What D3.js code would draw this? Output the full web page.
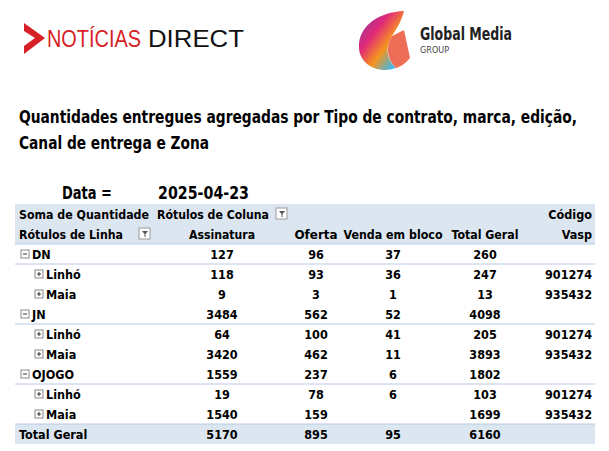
<!DOCTYPE html>
<html><head><meta charset="utf-8">
<script src="https://cdn.jsdelivr.net/npm/d3@7"></script>
<style>body{margin:0;background:#fff}</style>
</head><body>
<svg id="c" width="609" height="451"></svg>
<script>
var columns = ["Assinatura", "Oferta", "Venda em bloco", "Total Geral"];
var rowLabels = ["DN", "Linhó", "Maia", "JN", "Linhó", "Maia", "OJOGO", "Linhó", "Maia"];
var rowLevel = [0, 1, 1, 0, 1, 1, 0, 1, 1];
var assinatura = [127, 118, 9, 3484, 64, 3420, 1559, 19, 1540];
var oferta = [96, 93, 3, 562, 100, 462, 237, 78, 159];
var vendaBloco = [37, 36, 1, 52, 41, 11, 6, 6, null];
var totalGeral = [260, 247, 13, 4098, 205, 3893, 1802, 103, 1699];
var codigoVasp = ["", "901274", "935432", "", "901274", "935432", "", "901274", "935432"];
var totals = [5170, 895, 95, 6160];

var svg = d3.select("#c");
var font = "'DejaVu Sans Condensed', 'Liberation Sans', sans-serif";
var blue = "#dce6f1", line = "#b8cce4";

// logos
var defs = svg.append("defs");
var g1 = defs.append("linearGradient").attr("id", "gm").attr("x1", 0).attr("y1", 0).attr("x2", 1).attr("y2", 1);
[["0%", "#7b3fa0"], ["35%", "#e0287a"], ["60%", "#f7941d"], ["85%", "#3fb7e8"], ["100%", "#8dc63f"]]
  .forEach(function(s) { g1.append("stop").attr("offset", s[0]).attr("stop-color", s[1]); });
svg.append("path").attr("d", "M24,23 L45,38 L24,54 L24,46 L35,38 L24,31 Z").attr("fill", "#d71f26");
svg.append("text").attr("x", 47).attr("y", 47).attr("font-family", "'Liberation Sans', sans-serif").attr("font-size", 23)
  .attr("textLength", 94).attr("lengthAdjust", "spacingAndGlyphs").attr("fill", "#d71f26").text("NOTÍCIAS");
svg.append("text").attr("x", 148).attr("y", 47).attr("font-family", "'Liberation Sans', sans-serif").attr("font-size", 23)
  .attr("textLength", 96).attr("lengthAdjust", "spacingAndGlyphs").attr("fill", "#111").text("DIRECT");
svg.append("path").attr("d", "M404,11 C380,12 358,25 359,48 C360,66 380,74 396,68 C388,60 384,50 392,36 C397,28 402,20 404,11 Z")
  .attr("fill", "url(#gm)");
svg.append("path").attr("d", "M392,36 L404,30 L410,58 C405,64 400,67 396,68 C386,58 386,46 392,36 Z")
  .attr("fill", "#e8492d").attr("opacity", 0.8);
svg.append("text").attr("x", 420).attr("y", 40).attr("font-family", font)
  .attr("font-weight", "bold").attr("font-size", 17).attr("textLength", 92).attr("lengthAdjust", "spacingAndGlyphs")
  .attr("fill", "#222").text("Global Media");
svg.append("text").attr("x", 420).attr("y", 53).attr("font-family", font)
  .attr("font-size", 9).attr("fill", "#444").text("GROUP");

function txt(x, y, s, opts) {
  opts = opts || {};
  var t = svg.append("text").attr("x", x).attr("y", y).attr("font-family", font)
    .attr("font-weight", "bold").attr("font-size", opts.size || 12.5)
    .attr("text-anchor", opts.anchor || "start").attr("fill", "#000").text(s);
  if (opts.len) t.attr("textLength", opts.len).attr("lengthAdjust", "spacingAndGlyphs");
  return t;
}
txt(19, 123, "Quantidades entregues agregadas por Tipo de contrato, marca, edição,", {size: 17, len: 558});
txt(19, 149, "Canal de entrega e Zona", {size: 17, len: 190});
txt(62, 199, "Data =", {size: 17, len: 50});
txt(158, 199, "2025-04-23", {size: 17, len: 91});

// table
var left = 15, right = 595;
var y = d3.scaleBand().domain(d3.range(rowLabels.length + 3)).range([204, 444]);
var colX = d3.scaleOrdinal().domain(columns).range([222, 316, 393, 485]);

svg.append("rect").attr("x", left).attr("y", y(0)).attr("width", right - left).attr("height", y.bandwidth() * 2).attr("fill", blue);
svg.append("rect").attr("x", left).attr("y", y(rowLabels.length + 2)).attr("width", right - left).attr("height", y.bandwidth()).attr("fill", blue);
svg.append("line").attr("x1", left).attr("x2", right).attr("y1", y(2)).attr("y2", y(2)).attr("stroke", line);
svg.append("line").attr("x1", left).attr("x2", right).attr("y1", y(rowLabels.length + 2)).attr("y2", y(rowLabels.length + 2)).attr("stroke", line);

function base(i) { return y(i) + y.bandwidth() / 2 + 5; }
txt(19, base(0), "Soma de Quantidade", {len: 130});
txt(157, base(0), "Rótulos de Coluna", {len: 112});
txt(592, base(0), "Código", {anchor: "end"});
txt(19, base(1), "Rótulos de Linha", {len: 104});
txt(592, base(1), "Vasp", {anchor: "end"});
var colLen = [66, 43, 99, 67];
columns.forEach(function(c, j) { txt(colX(c), base(1), c, {anchor: "middle", len: colLen[j]}); });

function filterIcon(x, yy) {
  svg.append("rect").attr("x", x).attr("y", yy).attr("width", 11).attr("height", 11)
    .attr("fill", "#fff").attr("stroke", "#999");
  svg.append("path").attr("d", "M" + (x + 3) + "," + (yy + 3) + " h6 l-2.5,3 v3 h-1 v-3 Z").attr("fill", "#555");
}
filterIcon(276, y(0) + 4);
filterIcon(139, y(1) + 4);

function box(x, yy, plus) {
  svg.append("rect").attr("x", x).attr("y", yy).attr("width", 8).attr("height", 8)
    .attr("fill", "#fff").attr("stroke", "#888");
  svg.append("line").attr("x1", x + 2).attr("x2", x + 6).attr("y1", yy + 4).attr("y2", yy + 4).attr("stroke", "#333");
  if (plus) svg.append("line").attr("x1", x + 4).attr("x2", x + 4).attr("y1", yy + 2).attr("y2", yy + 6).attr("stroke", "#333");
}

rowLabels.forEach(function(r, i) {
  var ri = i + 2;
  var ind = rowLevel[i] ? 35 : 21;
  box(ind, y(ri) + 6, rowLevel[i] === 1);
  txt(ind + 11, base(ri), r);
  if (rowLevel[i] === 0) {
    svg.append("line").attr("x1", left).attr("x2", right).attr("y1", y(ri + 1)).attr("y2", y(ri + 1)).attr("stroke", line);
  }
  var vals = [assinatura[i], oferta[i], vendaBloco[i], totalGeral[i]];
  columns.forEach(function(c, j) {
    if (vals[j] != null) txt(colX(c), base(ri), vals[j], {anchor: "middle"});
  });
  txt(592, base(ri), codigoVasp[i], {anchor: "end"});
});
var tr = rowLabels.length + 2;
txt(19, base(tr), "Total Geral");
columns.forEach(function(c, j) { txt(colX(c), base(tr), totals[j], {anchor: "middle"}); });
</script>
</body></html>
